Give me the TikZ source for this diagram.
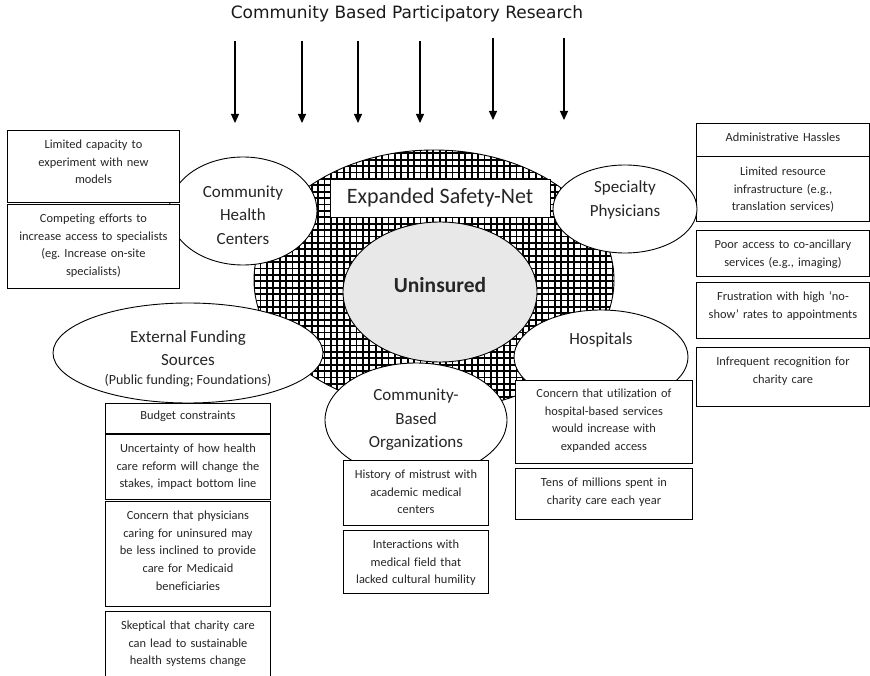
\documentclass[tikz,border=0pt]{standalone}
\usepackage{fontspec}
\setmainfont{Carlito}[Ligatures={TeX,NoCommon}]
\newfontfamily\titlefont{DejaVu Sans}
\usetikzlibrary{shapes.geometric,arrows.meta}
\frenchspacing

\begin{document}
\begin{tikzpicture}[x=1pt,y=-1pt,
  outline/.style={draw=black, line width=0.9pt},
  oval/.style={outline, ellipse, fill=white, inner sep=0pt},
  infobox/.style={outline, rectangle, fill=white, inner sep=0pt, anchor=north west},
  boxtext/.style={inner sep=0pt, anchor=north, align=center, text=black!85,
    font=\fontsize{12.4}{17.7}\selectfont},
  ovaltext/.style={inner sep=0pt, align=center, text=black!85,
    font=\fontsize{17}{23.5}\selectfont},
  gridline/.style={line width=1.8pt, black},
  downarrow/.style={line width=1.2pt, -{Triangle[width=8pt,length=9pt]}},
]
% canvas
\path[fill=white, use as bounding box] (0,0) rectangle (870,676);

% heading and the six research arrows
\node[text=black!90, font=\titlefont\fontsize{17}{20}\selectfont] (title) at (407,14)
  {Community Based Participatory Research};
\foreach \n/\x/\t/\b in {1/235/41/123, 2/302/41/123, 3/358/41/123, 4/420/41/123,
                         5/493/38/120, 6/564/38/120}{
  \coordinate (arr\n top) at (\x,\t);
  \coordinate (arr\n tip) at (\x,\b);
  \draw[downarrow] (arr\n top) -- (arr\n tip);
}

% cross-hatched safety-net area
\node[ellipse, minimum width=360, minimum height=260, inner sep=0pt] (net) at (434,280) {};
\begin{scope}
  \clip (434,280) ellipse [x radius=180, y radius=130];
  \foreach \k in {0,...,57}{
    \draw[gridline] ({254+6.4*\k},146) -- ({254+6.4*\k},414);
  }
  \foreach \k in {0,...,42}{
    \draw[gridline] (250,{147+6.4*\k}) -- (620,{147+6.4*\k});
  }
\end{scope}
\draw[outline] (434,280) ellipse [x radius=180, y radius=130];

\node[outline, fill=white, minimum width=220, minimum height=38, inner sep=0pt,
  font=\fontsize{22}{26}\selectfont, text=black!85] (safetynet) at (440,198)
  {Expanded Safety-Net};

\node[outline, ellipse, fill=black!9, minimum width=194, minimum height=140, inner sep=0pt]
  (uninsured) at (440,292) {};
\node[font=\bfseries\fontsize{21.5}{24}\selectfont, text=black!85] (uninsuredlabel)
  at (440,285) {Uninsured};

% stakeholder ovals
\node[oval, minimum width=148, minimum height=108] (chc) at (243,211) {};
\node[ovaltext] (chclabel) at (243,215) {Community\\Health\\Centers};

\node[oval, minimum width=174, minimum height=94] (hosp) at (601,357) {};
\node[ovaltext] (hosplabel) at (601,340) {Hospitals};

\node[oval, minimum width=182, minimum height=114] (cbo) at (416,420) {};
\node[ovaltext] (cbolabel) at (416,420) {Community-\\Based\\Organizations};

\node[oval, minimum width=270, minimum height=100] (efs) at (188,353) {};
\node[ovaltext] (efslabel) at (188,348) {External Funding\\Sources};
\node[inner sep=0pt, text=black!85, font=\fontsize{14}{16}\selectfont] (efssub)
  at (188,381) {(Public funding; Foundations)};

% barriers: community health centers
\node[infobox, minimum width=172, minimum height=72] (chc1) at (7,130) {};
\node[boxtext, text width=166] at ([yshift=-6pt]chc1.north)
  {\strut Limited capacity to\\experiment with new\\models};
\node[infobox, minimum width=172, minimum height=84] (chc2) at (7,204) {};
\node[boxtext, text width=166] at ([yshift=-6pt]chc2.north)
  {\strut Competing efforts to\\increase access to specialists\\(eg. Increase on-site\\specialists)};

% barriers: external funding sources
\node[infobox, minimum width=165, minimum height=30] (efs1) at (105,403) {};
\node[boxtext, text width=159] at ([yshift=-4pt]efs1.north) {\strut Budget constraints};
\node[infobox, minimum width=165, minimum height=65] (efs2) at (105,434) {};
\node[boxtext, text width=159] at ([yshift=-6pt]efs2.north)
  {\strut Uncertainty of how health\\care reform will change the\\stakes, impact bottom line};
\node[infobox, minimum width=165, minimum height=105] (efs3) at (105,501) {};
\node[boxtext, text width=159] at ([yshift=-6pt]efs3.north)
  {\strut Concern that physicians\\caring for uninsured may\\be less inclined to provide\\care for Medicaid\\beneficiaries};
\node[infobox, minimum width=165, minimum height=72] (efs4) at (105,611) {};
\node[boxtext, text width=159] at ([yshift=-6pt]efs4.north)
  {\strut Skeptical that charity care\\can lead to sustainable\\health systems change};

% barriers: community-based organizations
\node[infobox, minimum width=145, minimum height=65] (cbo1) at (343,460) {};
\node[boxtext, text width=139] at ([yshift=-6pt]cbo1.north)
  {\strut History of mistrust with\\academic medical\\centers};
\node[infobox, minimum width=145, minimum height=63] (cbo2) at (343,530) {};
\node[boxtext, text width=139] at ([yshift=-6pt]cbo2.north)
  {\strut Interactions with\\medical field that\\lacked cultural humility};

% barriers: hospitals
\node[infobox, minimum width=177, minimum height=83] (hosp1) at (515,380) {};
\node[boxtext, text width=171] at ([yshift=-5pt]hosp1.north)
  {\strut Concern that utilization of\\hospital-based services\\would increase with\\expanded access};
\node[infobox, minimum width=177, minimum height=51] (hosp2) at (515,468) {};
\node[boxtext, text width=171] at ([yshift=-6pt]hosp2.north)
  {\strut Tens of millions spent in\\charity care each year};

% barriers: specialty physicians
\node[infobox, minimum width=173, minimum height=33] (sp1) at (696,123) {};
\node[boxtext, text width=167] at ([yshift=-6pt]sp1.north) {\strut Administrative Hassles};
\node[infobox, minimum width=173, minimum height=65] (sp2) at (696,156) {};
\node[boxtext, text width=167] at ([yshift=-7pt]sp2.north)
  {\strut Limited resource\\infrastructure (e.g.,\\translation services)};
\node[infobox, minimum width=173, minimum height=46] (sp3) at (696,230) {};
\node[boxtext, text width=167] at ([yshift=-6pt]sp3.north)
  {\strut Poor access to co-ancillary\\services (e.g., imaging)};
\node[infobox, minimum width=173, minimum height=56] (sp4) at (696,282) {};
\node[boxtext, text width=167] at ([yshift=-6pt]sp4.north)
  {\strut Frustration with high `no-\\show' rates to appointments};
\node[infobox, minimum width=173, minimum height=59] (sp5) at (696,347) {};
\node[boxtext, text width=167] at ([yshift=-6pt]sp5.north)
  {\strut Infrequent recognition for\\charity care};

\node[oval, minimum width=144, minimum height=88] (spec) at (625,209) {};
\node[ovaltext] (speclabel) at (625,200) {Specialty\\Physicians};
\end{tikzpicture}
\end{document}
